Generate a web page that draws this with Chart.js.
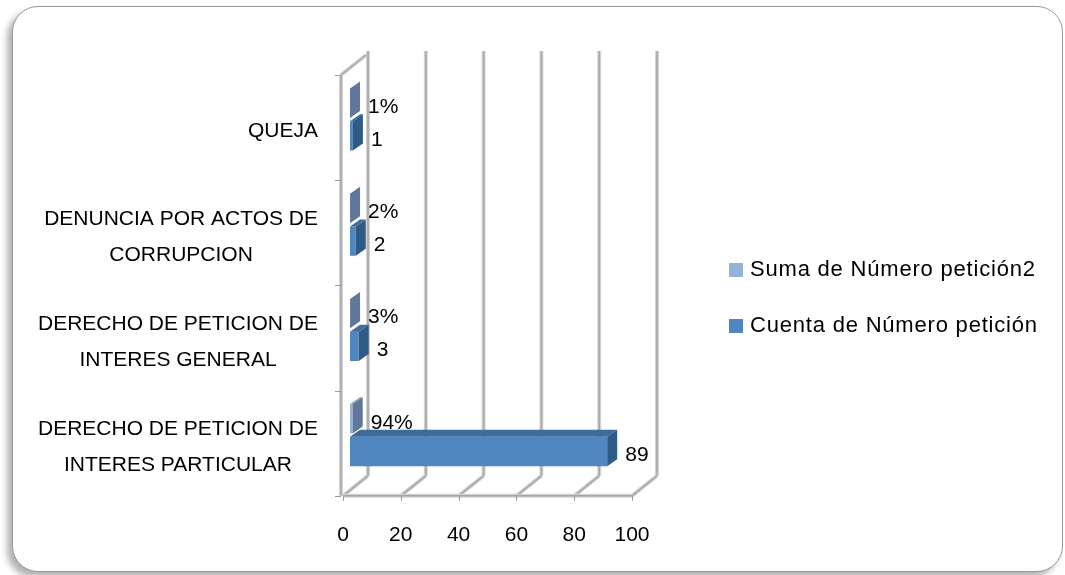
<!DOCTYPE html>
<html lang="es">
<head>
<meta charset="UTF-8">
<title>Peticiones por tipo</title>
<script src="https://cdn.jsdelivr.net/npm/chart.js"></script>
<style>
  html, body { margin: 0; padding: 0; background: #fff; }
  #frame {
    position: absolute; left: 12px; top: 6px; width: 1049px; height: 564px;
    border: 1px solid #9a9a9a; border-radius: 26px;
    box-shadow: -5px 5px 6px rgba(0,0,0,0.3); background: #fff;
  }
  #chartBox { position: absolute; left: 0; top: 0; width: 1065px; height: 575px; }
</style>
</head>
<body>
<div id="frame"></div>
<div id="chartBox"><canvas id="peticiones" width="1065" height="575"></canvas></div>
<script>
// datos
const categorias = [
  ['QUEJA'],
  ['DENUNCIA POR ACTOS DE', 'CORRUPCION'],
  ['DERECHO DE PETICION DE', 'INTERES GENERAL'],
  ['DERECHO DE PETICION DE', 'INTERES PARTICULAR']
];
const sumaPeticion2 = [0.01, 0.02, 0.03, 0.94];   // porcentaje (fraccion)
const cuentaPeticion = [1, 2, 3, 89];
const ticksX = [0, 20, 40, 60, 80, 100];
const series = ['Suma de Número petición2', 'Cuenta de Número petición'];

const FONT = 'Liberation Sans';
Chart.defaults.font.family = FONT;
Chart.defaults.font.size = 21;
Chart.defaults.color = '#000';

// colores de las caras (frente, arriba, lado)
const caras = [
  { front: '#95B3D7', top: '#7f97b8', side: '#5f7899' },
  { front: '#4F86C0', top: '#3d6b9a', side: '#2f5a85' }
];

// pared, piso y barras en 3D
const efecto3d = {
  id: 'efecto3d',
  beforeDatasetsDraw(chart) {
    const ctx = chart.ctx, a = chart.chartArea, xs = chart.scales.x;
    const wdx = 25, wdy = -20;
    ctx.save();
    ctx.lineCap = 'butt';
    const linea = (x1, y1, x2, y2) => {
      ctx.strokeStyle = '#d2d2d2'; ctx.lineWidth = 4;
      ctx.beginPath(); ctx.moveTo(x1, y1); ctx.lineTo(x2, y2); ctx.stroke();
      ctx.strokeStyle = '#a6a6a6'; ctx.lineWidth = 1.5;
      ctx.beginPath(); ctx.moveTo(x1, y1); ctx.lineTo(x2, y2); ctx.stroke();
    };
    ticksX.forEach(v => {
      const px = xs.getPixelForValue(v);
      linea(px + wdx, a.top + wdy - 4, px + wdx, a.bottom + wdy);
      linea(px, a.bottom, px + wdx, a.bottom + wdy);
    });
    // borde frontal del piso y pared izquierda
    linea(a.left, a.bottom, a.right, a.bottom);
    linea(a.left - 2, a.top, a.left - 2, a.bottom);
    linea(a.left - 2, a.top, a.left - 2 + wdx, a.top + wdy);
    ctx.strokeStyle = '#9a9a9a'; ctx.lineWidth = 1;
    ticksX.forEach(v => {
      const px = Math.round(xs.getPixelForValue(v)) + 0.5;
      ctx.beginPath(); ctx.moveTo(px, a.bottom); ctx.lineTo(px, a.bottom + 5); ctx.stroke();
    });
    const n = categorias.length;
    for (let i = 0; i <= n; i++) {
      const py = Math.round(a.top + i * (a.bottom - a.top) / n) + 0.5;
      ctx.beginPath(); ctx.moveTo(a.left - 8, py); ctx.lineTo(a.left - 2, py); ctx.stroke();
    }
    ctx.restore();
    ctx.save();
    ctx.translate(7, -8);
  },
  afterDatasetsDraw(chart) {
    const ctx = chart.ctx;
    const dx = 10, dy = -7;
    chart.data.datasets.forEach((ds, di) => {
      const c = caras[di];
      chart.getDatasetMeta(di).data.forEach(el => {
        const p = el.getProps(['x', 'y', 'base', 'height'], true);
        const l = p.base, r = p.x, t = p.y - p.height / 2, b = p.y + p.height / 2;
        ctx.fillStyle = c.top;
        ctx.beginPath();
        ctx.moveTo(l, t); ctx.lineTo(r, t); ctx.lineTo(r + dx, t + dy); ctx.lineTo(l + dx, t + dy);
        ctx.closePath(); ctx.fill();
        ctx.fillStyle = c.side;
        ctx.beginPath();
        ctx.moveTo(r, t); ctx.lineTo(r + dx, t + dy); ctx.lineTo(r + dx, b + dy); ctx.lineTo(r, b);
        ctx.closePath(); ctx.fill();
      });
    });
    ctx.restore();
  },
  afterDraw(chart) {
    const ctx = chart.ctx, ys = chart.scales.y;
    ctx.save();
    ctx.fillStyle = '#000';
    ctx.font = '21px "' + FONT + '"';
    ctx.textBaseline = 'middle';
    // etiquetas de datos
    ctx.textAlign = 'left';
    chart.data.datasets.forEach((ds, di) => {
      chart.getDatasetMeta(di).data.forEach((el, i) => {
        const v = ds.data[i];
        const txt = di === 0 ? Math.round(v * 100) + '%' : String(v);
        ctx.fillText(txt, el.x + 7 + 10 + 8, el.y - 4);
      });
    });
    // etiquetas de categoria: bloque alineado a la derecha, lineas centradas
    const lh = 36, right = 318;
    categorias.forEach((lines, i) => {
      const cy = ys.getPixelForTick(i) + 4;
      const w = Math.max(...lines.map(s => ctx.measureText(s).width));
      ctx.textAlign = 'center';
      lines.forEach((s, k) => {
        ctx.fillText(s, right - w / 2, cy + (k - (lines.length - 1) / 2) * lh);
      });
    });
    // leyenda
    ctx.textAlign = 'left';
    ctx.font = '22px "' + FONT + '"';
    ctx.letterSpacing = '0.8px';
    series.forEach((s, i) => {
      const y = 270 + i * 56;
      ctx.fillStyle = caras[i].front;
      ctx.fillRect(729, y - 7, 14, 14);
      ctx.fillStyle = '#000';
      ctx.fillText(s, 750, y);
    });
    ctx.restore();
  }
};

new Chart(document.getElementById('peticiones'), {
  type: 'bar',
  data: {
    labels: categorias,
    datasets: [
      { label: series[0], data: sumaPeticion2, backgroundColor: caras[0].front, borderWidth: 0 },
      { label: series[1], data: cuentaPeticion, backgroundColor: caras[1].front, borderWidth: 0 }
    ]
  },
  options: {
    indexAxis: 'y',
    responsive: false,
    animation: false,
    events: [],
    categoryPercentage: 0.62,
    barPercentage: 0.9,
    layout: { padding: { left: 343, right: 433, top: 75, bottom: 0 } },
    scales: {
      x: {
        min: 0, max: 100,
        afterBuildTicks: scale => { scale.ticks = ticksX.map(v => ({ value: v })); },
        grid: { display: false, drawTicks: false },
        border: { display: false },
        ticks: { padding: 27, font: { size: 21 }, color: '#000' }
      },
      y: { display: false }
    },
    plugins: {
      legend: { display: false },
      tooltip: { enabled: false }
    }
  },
  plugins: [efecto3d]
});
</script>
</body>
</html>
